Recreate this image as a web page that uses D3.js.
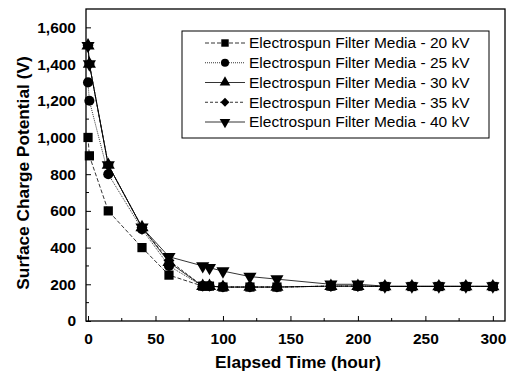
<!DOCTYPE html>
<html>
<head>
<meta charset="utf-8">
<script src="https://cdn.jsdelivr.net/npm/d3@7"></script>
<style>
  body { margin: 0; background: #fff; }
  text { font-family: Arial, "Liberation Sans", sans-serif; fill: #000; }
</style>
</head>
<body>
<svg id="chart" width="513" height="373"></svg>
<script>
// elapsed time (hour)
const time = [0, 1, 15, 40, 60, 85, 90, 100, 120, 140, 180, 200, 220, 240, 260, 280, 300];
const kv20 = [1000, 900, 600, 400, 250, 190, 190, 185, 185, 185, 190, 190, 188, 188, 188, 188, 188];
const kv25 = [1300, 1200, 800, 500, 300, 190, 190, 185, 185, 185, 190, 190, 188, 188, 188, 188, 188];
const kv30 = [1500, 1400, 850, 510, 320, 190, 190, 185, 185, 185, 190, 190, 188, 188, 188, 188, 188];
const kv35 = [1500, 1400, 850, 510, 330, 190, 190, 185, 185, 185, 190, 190, 188, 188, 188, 188, 188];
const kv40 = [1500, 1400, 850, 510, 350, 300, 290, 272, 242, 228, 200, 200, 190, 190, 190, 190, 190];
const seriesNames = ["Electrospun Filter Media - 20 kV", "Electrospun Filter Media - 25 kV",
  "Electrospun Filter Media - 30 kV", "Electrospun Filter Media - 35 kV", "Electrospun Filter Media - 40 kV"];
const xTicks = [0, 50, 100, 150, 200, 250, 300];
const yTicks = [0, 200, 400, 600, 800, 1000, 1200, 1400, 1600];

const series = [
  {name: seriesNames[0], values: kv20, symbol: d3.symbolSquare, dash: "4,2", size: 85},
  {name: seriesNames[1], values: kv25, symbol: d3.symbolCircle, dash: "1,1", size: 80},
  {name: seriesNames[2], values: kv30, symbol: d3.symbolTriangle, dash: null, size: 75},
  {name: seriesNames[3], values: kv35, symbol: d3.symbolSquare, dash: "3,2", size: 60, rot: 45},
  {name: seriesNames[4], values: kv40, symbol: d3.symbolTriangle, dash: null, size: 75, rot: 180}
];

const svg = d3.select("#chart");
const plot = {left: 86, right: 505, top: 9, bottom: 321};

const x = d3.scaleLinear().domain([-1.5, 309]).range([plot.left, plot.right]);
const y = d3.scaleLinear().domain([0, 1700]).range([plot.bottom, plot.top]);

// frame
svg.append("rect")
  .attr("x", plot.left).attr("y", plot.top)
  .attr("width", plot.right - plot.left).attr("height", plot.bottom - plot.top)
  .attr("fill", "none").attr("stroke", "#000").attr("stroke-width", 1.3);

// axes with inward ticks
const xAxis = svg.append("g").attr("transform", `translate(0,${plot.bottom})`)
  .call(d3.axisBottom(x).tickValues(xTicks).tickSizeInner(-5).tickSizeOuter(0).tickPadding(12));
const yAxis = svg.append("g").attr("transform", `translate(${plot.left},0)`)
  .call(d3.axisLeft(y).tickValues(yTicks).tickFormat(d3.format(",")).tickSizeInner(-5).tickSizeOuter(0).tickPadding(10));
[xAxis, yAxis].forEach(a => {
  a.select(".domain").remove();
  a.selectAll("text").attr("font-size", 15.5).attr("font-weight", "bold")
    .attr("font-family", "Arial, 'Liberation Sans', sans-serif");
});

// minor ticks
svg.append("g").selectAll("line")
  .data(d3.range(25, 301, 50))
  .join("line")
  .attr("x1", d => x(d)).attr("x2", d => x(d))
  .attr("y1", plot.bottom).attr("y2", plot.bottom - 3)
  .attr("stroke", "#000");
svg.append("g").selectAll("line")
  .data(d3.range(100, 1700, 200))
  .join("line")
  .attr("x1", plot.left).attr("x2", plot.left + 3)
  .attr("y1", d => y(d)).attr("y2", d => y(d))
  .attr("stroke", "#000");

// axis titles
svg.append("text")
  .attr("x", 298).attr("y", 368)
  .attr("text-anchor", "middle")
  .attr("font-size", 17.3).attr("font-weight", "bold")
  .text("Elapsed Time (hour)");
svg.append("text")
  .attr("transform", "translate(29,173) rotate(-90)")
  .attr("text-anchor", "middle")
  .attr("font-size", 17.3).attr("font-weight", "bold")
  .text("Surface Charge Potential (V)");

const line = d3.line().x(d => x(d.t)).y(d => y(d.v));
const symbolFor = (s, size) => d3.symbol().type(s.symbol).size(size)();
const rotOf = s => s.rot ? ` rotate(${s.rot})` : "";

series.forEach(s => {
  const pts = time.map((t, i) => ({t: t, v: s.values[i]}));
  svg.append("path")
    .datum(pts)
    .attr("d", line)
    .attr("fill", "none")
    .attr("stroke", "#000")
    .attr("stroke-width", 0.8)
    .attr("stroke-dasharray", s.dash);
  svg.append("g").selectAll("path")
    .data(pts)
    .join("path")
    .attr("d", symbolFor(s, s.size))
    .attr("transform", d => `translate(${x(d.t)},${y(d.v)})${rotOf(s)}`)
    .attr("fill", "#000");
});

// legend
const legend = svg.append("g");
legend.append("rect")
  .attr("x", 182).attr("y", 31)
  .attr("width", 307).attr("height", 107)
  .attr("fill", "#fff").attr("stroke", "#000").attr("stroke-width", 1);
const rowY = d3.scalePoint().domain(seriesNames).range([43, 122]);
series.forEach(s => {
  const g = legend.append("g").attr("transform", `translate(0,${rowY(s.name)})`);
  g.append("line")
    .attr("x1", 205).attr("x2", 245)
    .attr("stroke", "#000").attr("stroke-width", 0.8)
    .attr("stroke-dasharray", s.dash);
  g.append("path")
    .attr("d", symbolFor(s, s.size * 0.65))
    .attr("transform", `translate(225,0)${rotOf(s)}`)
    .attr("fill", "#000");
  g.append("text")
    .attr("x", 249).attr("dy", "0.35em")
    .attr("font-size", 15.5)
    .text(s.name);
});
</script>
</body>
</html>
